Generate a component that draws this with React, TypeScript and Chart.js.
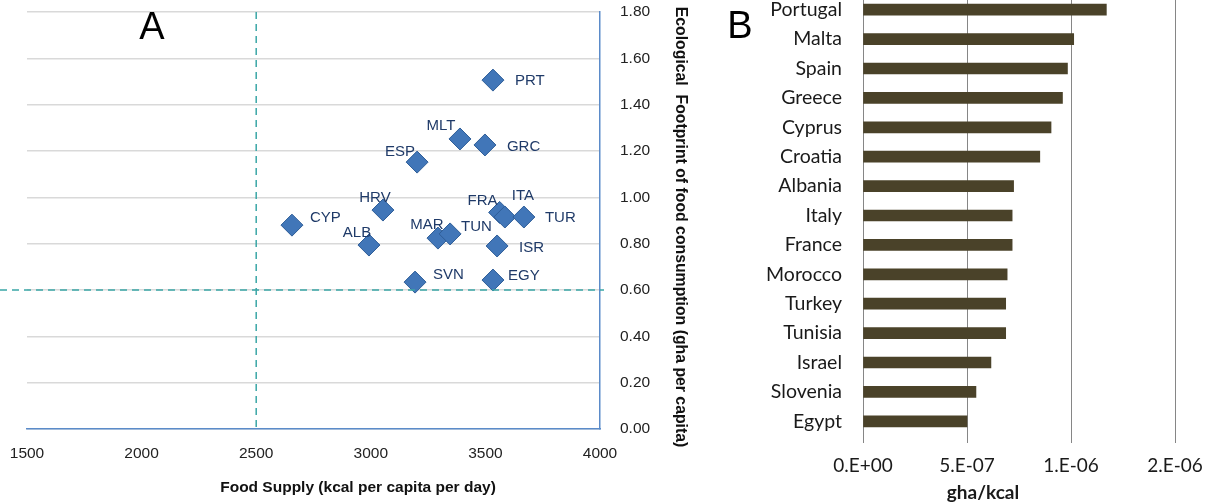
import React, { useEffect, useRef } from "react";
import { Chart, registerables } from "chart.js";
Chart.register(...registerables);

// ---------- Panel A data ----------
const countryCodes = ["PRT", "MLT", "GRC", "ESP", "HRV", "CYP", "ALB", "MAR", "TUN", "FRA", "ITA", "TUR", "ISR", "SVN", "EGY"];
const foodSupply = [3533, 3389, 3498, 3202, 3053, 2656, 2992, 3293, 3346, 3562, 3585, 3668, 3551, 3193, 3533];
const footprint = [1.506, 1.252, 1.226, 1.152, 0.945, 0.88, 0.794, 0.824, 0.842, 0.935, 0.915, 0.915, 0.79, 0.634, 0.643];
const supplyThreshold = 2500;
const footprintThreshold = 0.6;
const xTickValuesA = [1500, 2000, 2500, 3000, 3500, 4000];
const yTickValuesA = [0, 0.2, 0.4, 0.6, 0.8, 1.0, 1.2, 1.4, 1.6, 1.8];
const xTitleA = "Food Supply (kcal per capita per day)";
const yTitleA = "Ecological  Footprint of food consumption (gha per capita)";

// ---------- Panel B data ----------
const barCountries = ["Portugal", "Malta", "Spain", "Greece", "Cyprus", "Croatia", "Albania", "Italy", "France", "Morocco", "Turkey", "Tunisia", "Israel", "Slovenia", "Egypt"];
const ghaPerKcal = [1.17e-6, 1.013e-6, 0.983e-6, 0.959e-6, 0.904e-6, 0.85e-6, 0.724e-6, 0.717e-6, 0.717e-6, 0.693e-6, 0.686e-6, 0.686e-6, 0.615e-6, 0.543e-6, 0.5e-6];
const xTickValuesB = [0, 5e-7, 1e-6, 1.5e-6];
const xTickLabelsB = ["0.E+00", "5.E-07", "1.E-06", "2.E-06"];
const xTitleB = "gha/kcal";

// label placement (style): [dx, dy, align]
const labelPlacement: Record<string, [number, number, CanvasTextAlign]> = {
  PRT: [22, 1, "left"],
  MLT: [-19, -13, "center"],
  GRC: [22, 2, "left"],
  ESP: [-17, -10, "center"],
  HRV: [-8, -12, "center"],
  CYP: [18, -7, "left"],
  ALB: [-12, -12, "center"],
  MAR: [-11, -13, "center"],
  TUN: [11, -7, "left"],
  FRA: [-17, -12, "center"],
  ITA: [18, -21, "center"],
  TUR: [21, 1, "left"],
  ISR: [22, 2, "left"],
  SVN: [18, -7, "left"],
  EGY: [15, -4, "left"],
};

const ARIAL = "'Liberation Sans', Arial, sans-serif";
const CAL = "Lato, 'Open Sans', sans-serif";

const zeroPadding = (s: any) => {
  s.paddingLeft = 0;
  s.paddingRight = 0;
  s.paddingTop = 0;
  s.paddingBottom = 0;
};

const panelAPlugin = {
  id: "panelA",
  afterDatasetsDraw(chart: any) {
    const { ctx, chartArea, scales } = chart;
    const xs = scales.x;
    const ys = scales.y;
    ctx.save();
    // dashed reference lines
    ctx.strokeStyle = "#3AA6A6";
    ctx.lineWidth = 1.5;
    ctx.setLineDash([7, 5]);
    const vx = xs.getPixelForValue(supplyThreshold);
    ctx.beginPath();
    ctx.moveTo(vx, chartArea.top);
    ctx.lineTo(vx, chartArea.bottom);
    ctx.stroke();
    const hy = ys.getPixelForValue(footprintThreshold);
    ctx.beginPath();
    ctx.moveTo(0, hy);
    ctx.lineTo(chartArea.right + 4, hy);
    ctx.stroke();
    ctx.setLineDash([]);
    // point labels
    const meta = chart.getDatasetMeta(0);
    ctx.font = `15px ${ARIAL}`;
    ctx.fillStyle = "#1F3A68";
    ctx.textBaseline = "middle";
    meta.data.forEach((pt: any, i: number) => {
      const code = countryCodes[i];
      const [dx, dy, align] = labelPlacement[code] || [15, 0, "left"];
      ctx.textAlign = align;
      ctx.fillText(code, pt.x + dx, pt.y + dy);
    });
    // panel letter
    ctx.font = `38px ${ARIAL}`;
    ctx.fillStyle = "#000";
    ctx.textAlign = "center";
    ctx.fillText("A", 152, 29);
    // axis titles (placed as in the source figure)
    ctx.font = `bold 15.5px ${ARIAL}`;
    ctx.fillStyle = "#111";
    ctx.fillText(xTitleA, chartArea.left + 331, 488);
    ctx.save();
    ctx.translate(chartArea.right + 80, chartArea.top + 215);
    ctx.rotate(Math.PI / 2);
    ctx.font = `bold 15.8px ${ARIAL}`;
    ctx.fillText(yTitleA, 0, 0);
    ctx.restore();
    ctx.restore();
  },
};

const panelBPlugin = {
  id: "panelB",
  afterDraw(chart: any) {
    const { ctx, chartArea } = chart;
    ctx.save();
    ctx.fillStyle = "#000";
    ctx.textBaseline = "middle";
    ctx.textAlign = "center";
    ctx.font = `38px ${ARIAL}`;
    ctx.fillText("B", 20, 33);
    ctx.font = `bold 19px ${CAL}`;
    ctx.fillStyle = "#1a1a1a";
    ctx.fillText(xTitleB, chartArea.left + 120, 498);
    ctx.restore();
  },
};

export default function App() {
  const refA = useRef<HTMLCanvasElement>(null);
  const refB = useRef<HTMLCanvasElement>(null);

  useEffect(() => {
    const chartA = new Chart(refA.current as HTMLCanvasElement, {
      type: "scatter",
      data: {
        datasets: [
          {
            data: foodSupply.map((x, i) => ({ x, y: footprint[i] })),
            pointStyle: "rectRot",
            pointRadius: 11,
            backgroundColor: "#4176B8",
            borderColor: "#2F5E98",
            borderWidth: 1,
          },
        ],
      },
      options: {
        animation: false,
        responsive: false,
        maintainAspectRatio: false,
        layout: { padding: { left: 27, top: 12, right: 0, bottom: 0 } },
        plugins: { legend: { display: false }, tooltip: { enabled: false } },
        scales: {
          x: {
            type: "linear",
            min: 1500,
            max: 4000,
            afterBuildTicks: (s: any) => {
              s.ticks = xTickValuesA.map((v) => ({ value: v }));
            },
            afterFit: (s: any) => {
              s.height = 74;
              zeroPadding(s);
            },
            ticks: {
              font: { family: ARIAL, size: 15.5 },
              color: "#222",
              padding: 15,
              maxRotation: 0,
              callback: (v: any) => String(v),
            },
            grid: { display: false, drawTicks: false },
            border: { display: true, color: "#5B8BC9", width: 1.5 },
            title: { display: false },
          },
          y: {
            position: "right",
            min: 0,
            max: 1.8,
            afterBuildTicks: (s: any) => {
              s.ticks = yTickValuesA.map((v) => ({ value: v }));
            },
            afterFit: (s: any) => {
              s.width = 105;
              zeroPadding(s);
            },
            ticks: {
              font: { family: ARIAL, size: 15.5 },
              color: "#222",
              padding: 20,
              callback: (v: any) => Number(v).toFixed(2),
            },
            grid: { color: "#D9D9D9", lineWidth: 1.5, drawTicks: false },
            border: { display: true, color: "#5B8BC9", width: 1.5 },
            title: { display: false },
          },
        },
      },
      plugins: [panelAPlugin],
    } as any);

    const chartB = new Chart(refB.current as HTMLCanvasElement, {
      type: "bar",
      data: {
        labels: barCountries,
        datasets: [
          {
            data: ghaPerKcal,
            backgroundColor: "#4A4229",
            borderWidth: 0,
            barThickness: 11,
          },
        ],
      },
      options: {
        indexAxis: "y",
        animation: false,
        responsive: false,
        maintainAspectRatio: false,
        layout: { padding: { left: 0, top: 0, right: 32, bottom: 0 } },
        plugins: { legend: { display: false }, tooltip: { enabled: false } },
        scales: {
          x: {
            type: "linear",
            min: 0,
            max: 1.5e-6,
            afterBuildTicks: (s: any) => {
              s.ticks = xTickValuesB.map((v) => ({ value: v }));
            },
            afterFit: (s: any) => {
              s.height = 67;
              zeroPadding(s);
            },
            ticks: {
              font: { family: CAL, size: 19 },
              color: "#1a1a1a",
              padding: 11,
              maxRotation: 0,
              callback: (_v: any, i: number) => xTickLabelsB[i],
            },
            grid: { color: "#868686", lineWidth: 1, tickLength: 7 },
            border: { display: false },
          },
          y: {
            afterFit: (s: any) => {
              s.width = 143;
              zeroPadding(s);
            },
            ticks: { font: { family: CAL, size: 19.5 }, color: "#1a1a1a", padding: 21 },
            grid: { display: false, drawTicks: false },
            border: { display: false },
          },
        },
      },
      plugins: [panelBPlugin],
    } as any);

    return () => {
      chartA.destroy();
      chartB.destroy();
    };
  }, []);

  return (
    <div style={{ position: "absolute", left: 0, top: 0, width: 1207, height: 503, overflow: "hidden", background: "#fff" }}>
      <div style={{ position: "absolute", left: 0, top: 0, width: 705, height: 503 }}>
        <canvas ref={refA} width={705} height={503} style={{ width: 705, height: 503, display: "block" }} />
      </div>
      <div style={{ position: "absolute", left: 720, top: -5, width: 487, height: 508 }}>
        <canvas ref={refB} width={487} height={508} style={{ width: 487, height: 508, display: "block" }} />
      </div>
    </div>
  );
}
